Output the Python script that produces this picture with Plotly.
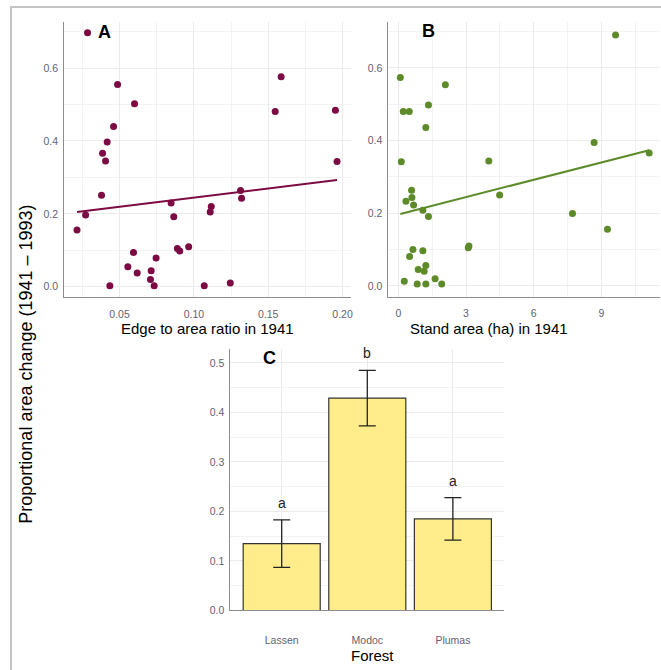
import numpy as np
import plotly.graph_objects as go

W, H = 661, 670

# ---------------- data ----------------
edge_ratio = [0.0285, 0.0487, 0.0601, 0.0460, 0.0417, 0.0386, 0.0406, 0.0379, 0.0272, 0.0214,
              0.0435, 0.0556, 0.0594, 0.0619, 0.0713, 0.0708, 0.0733, 0.0746, 0.0847, 0.0865,
              0.0889, 0.0905, 0.0965, 0.1070, 0.1117, 0.1110, 0.1245, 0.1314, 0.1321, 0.1547,
              0.1587, 0.1952, 0.1963]
change_a = [0.697, 0.555, 0.502, 0.440, 0.397, 0.366, 0.345, 0.251, 0.197, 0.156,
            0.003, 0.055, 0.094, 0.038, 0.044, 0.020, 0.003, 0.079, 0.230, 0.192,
            0.105, 0.098, 0.110, 0.003, 0.220, 0.205, 0.010, 0.264, 0.243, 0.481,
            0.576, 0.484, 0.344]

stand_area = [9.63, 0.088, 2.085, 0.22, 0.485, 1.336, 1.219, 0.132, 4.01, 8.68,
              11.12, 4.49, 0.587, 0.338, 0.602, 0.675, 1.087, 1.336, 7.72, 9.27,
              3.10, 3.13, 0.646, 1.087, 0.50, 0.881, 1.219, 1.145, 0.264, 0.837,
              1.219, 1.63, 1.924]
change_b = [0.691, 0.574, 0.554, 0.480, 0.480, 0.498, 0.436, 0.342, 0.344, 0.395,
            0.366, 0.250, 0.263, 0.233, 0.243, 0.223, 0.208, 0.191, 0.199, 0.156,
            0.105, 0.110, 0.100, 0.097, 0.081, 0.045, 0.056, 0.040, 0.013, 0.005,
            0.005, 0.020, 0.005]

forests = ["Lassen", "Modoc", "Plumas"]
mean_change = [0.135, 0.429, 0.185]
se_change = [0.048, 0.056, 0.043]
group_letters = ["a", "b", "a"]

# ---------------- styling ----------------
FONT = "Arial, Liberation Sans, sans-serif"
COL_A = "#7D0B43"
COL_B = "#5E8B2A"
BAR_FILL = "#FFEC8B"
GRID = "#EBEBEB"
AXLINE = "#8C8C8C"
TICKCOL = "#5F6370"


def px_x(p):
    return p / W


def px_y(p):
    return 1 - p / H


fig = go.Figure()

# Panel A scatter + fit
fig.add_trace(go.Scatter(x=edge_ratio, y=change_a, mode="markers",
                         marker=dict(color=COL_A, size=7), xaxis="x", yaxis="y",
                         showlegend=False))
ka, ba = np.polyfit(edge_ratio, change_a, 1)
xa = np.array([min(edge_ratio), max(edge_ratio)])
fig.add_trace(go.Scatter(x=xa, y=ka * xa + ba, mode="lines",
                         line=dict(color=COL_A, width=2), xaxis="x", yaxis="y",
                         showlegend=False))

# Panel B scatter + fit
fig.add_trace(go.Scatter(x=stand_area, y=change_b, mode="markers",
                         marker=dict(color=COL_B, size=7), xaxis="x2", yaxis="y2",
                         showlegend=False))
kb, bb = np.polyfit(stand_area, change_b, 1)
xb = np.array([min(stand_area), max(stand_area)])
fig.add_trace(go.Scatter(x=xb, y=kb * xb + bb, mode="lines",
                         line=dict(color=COL_B, width=2), xaxis="x2", yaxis="y2",
                         showlegend=False))

# Panel C bars
fig.add_trace(go.Bar(x=forests, y=mean_change, width=0.9,
                     marker=dict(color=BAR_FILL, line=dict(color="#333333", width=1.2)),
                     error_y=dict(type="data", array=se_change, color="#222222",
                                  thickness=1.3, width=8.5),
                     xaxis="x3", yaxis="y3", showlegend=False))

common_axis = dict(showgrid=True, gridcolor=GRID, gridwidth=1, zeroline=False,
                   showline=True, linecolor=AXLINE, linewidth=1,
                   ticks="outside", ticklen=3, tickcolor="rgba(0,0,0,0)",
                   tickfont=dict(family=FONT, size=10.5, color=TICKCOL))
minor_grid = dict(showgrid=True, gridcolor="#F3F3F3", gridwidth=1)

fig.update_layout(
    width=W, height=H,
    margin=dict(l=0, r=0, t=0, b=0),
    paper_bgcolor="white", plot_bgcolor="white",
    font=dict(family=FONT),
    bargap=0.1,
    xaxis=dict(common_axis, domain=[px_x(64.3), px_x(352)], range=[0.0128, 0.206],
               dtick=0.05, tick0=0, tickformat=".2f", anchor="y", ticklen=7,
               minor=dict(minor_grid, dtick=0.025)),
    yaxis=dict(common_axis, domain=[px_y(300), px_y(22)], range=[-0.029, 0.727],
               dtick=0.2, tick0=0, tickformat=".1f", anchor="x",
               minor=dict(minor_grid, dtick=0.1)),
    xaxis2=dict(common_axis, domain=[px_x(389), 1.0], range=[-0.44, 11.6],
                dtick=3, tick0=0, anchor="y2", ticklen=7,
                minor=dict(minor_grid, dtick=1.5)),
    yaxis2=dict(common_axis, domain=[px_y(299.3), px_y(22)], range=[-0.0295, 0.727],
                dtick=0.2, tick0=0, tickformat=".1f", anchor="x2",
                minor=dict(minor_grid, dtick=0.1)),
    xaxis3=dict(common_axis, domain=[px_x(230.7), px_x(505)], range=[-0.6, 2.6],
                anchor="y3", ticklen=20),
    yaxis3=dict(common_axis, domain=[px_y(616), px_y(351.7)], range=[0, 0.529],
                dtick=0.1, tick0=0, tickformat=".1f", anchor="x3",
                minor=dict(minor_grid, dtick=0.05)),
)

ann = []
# panel letters
for txt, x, y in [("A", 105, 32), ("B", 429, 31), ("C", 270, 361)]:
    ann.append(dict(text="<b>%s</b>" % txt, x=px_x(x), y=px_y(y), xref="paper", yref="paper",
                    showarrow=False, font=dict(family=FONT, size=18, color="black"),
                    xanchor="center", yanchor="middle"))
# axis titles
ann.append(dict(text="Edge to area ratio in 1941", x=px_x(208), y=px_y(331), xref="paper",
                yref="paper", showarrow=False, font=dict(family=FONT, size=15, color="black"),
                xanchor="center", yanchor="middle"))
ann.append(dict(text="Stand area (ha) in 1941", x=px_x(490), y=px_y(331), xref="paper",
                yref="paper", showarrow=False, font=dict(family=FONT, size=15, color="black"),
                xanchor="center", yanchor="middle"))
ann.append(dict(text="Forest", x=px_x(373), y=px_y(661), xref="paper", yref="paper",
                showarrow=False, font=dict(family=FONT, size=15, color="black"),
                xanchor="center", yanchor="middle"))
ann.append(dict(text="Proportional area change (1941 \u2013 1993)", x=px_x(26), y=px_y(367),
                xref="paper", yref="paper", showarrow=False, textangle=-90,
                font=dict(family=FONT, size=18, color="black"),
                xanchor="center", yanchor="middle"))
# significance letters
for f, m, s, L in zip(forests, mean_change, se_change, group_letters):
    ann.append(dict(text=L, x=f, y=m + s, xref="x3", yref="y3", showarrow=False,
                    yanchor="bottom", yshift=7,
                    font=dict(family=FONT, size=14, color="#222222")))
fig.update_layout(annotations=ann)

# outer frame (top and left visible)
fig.add_shape(type="rect", xref="paper", yref="paper",
              x0=px_x(11), y0=px_y(700), x1=px_x(700), y1=px_y(7),
              line=dict(color="#C4C4C4", width=2), fillcolor="rgba(0,0,0,0)", layer="below")

fig.write_html("out.html", config={"displayModeBar": False},
               post_script="document.body.style.margin='0';document.body.style.overflow='hidden';")
